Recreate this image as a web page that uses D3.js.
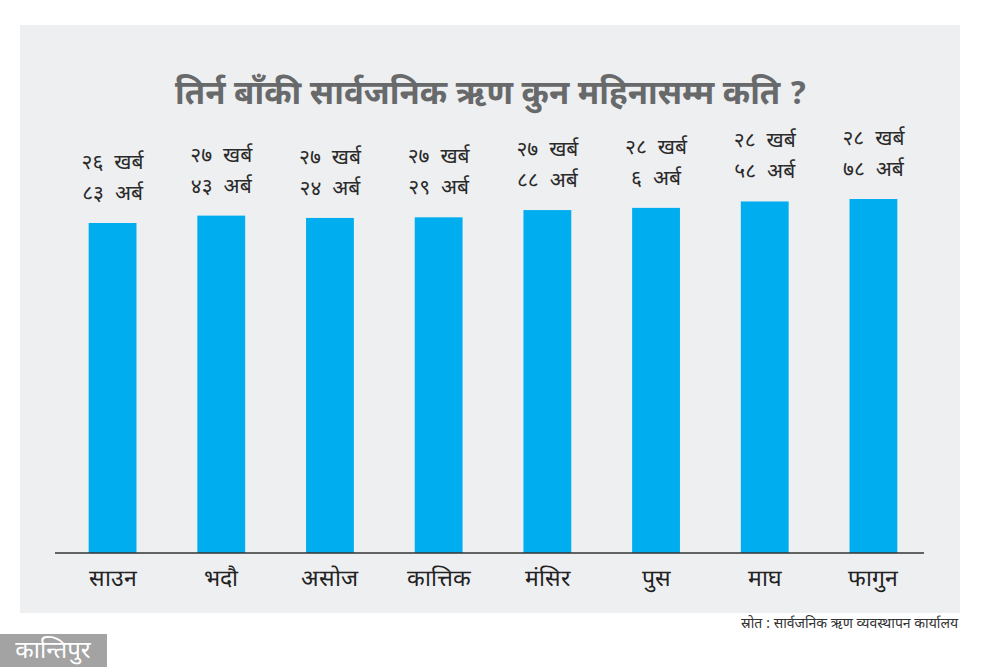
<!DOCTYPE html>
<html><head><meta charset="utf-8">
<script src="https://cdn.jsdelivr.net/npm/d3@7"></script>
<style>
body{margin:0;background:#fff;}
svg{display:block;font-family:"Noto Sans Devanagari","Noto Sans","DejaVu Sans",sans-serif;}
</style></head><body>
<svg id="c" width="1001" height="667"></svg>
<script>
const months = ["साउन","भदौ","असोज","कात्तिक","मंसिर","पुस","माघ","फागुन"];
// outstanding debt in अर्ब (1 खर्ब = 100 अर्ब)
const values = [2683, 2743, 2724, 2729, 2788, 2806, 2858, 2878];
const labelLine1 = ["२६  खर्ब","२७  खर्ब","२७  खर्ब","२७  खर्ब","२७  खर्ब","२८  खर्ब","२८  खर्ब","२८  खर्ब"];
const labelLine2 = ["८३  अर्ब","४३  अर्ब","२४  अर्ब","२९  अर्ब","८८  अर्ब","६  अर्ब","५८  अर्ब","७८  अर्ब"];
const title = "तिर्न बाँकी सार्वजनिक ऋण कुन महिनासम्म कति ?";
const source = "स्रोत : सार्वजनिक ऋण व्यवस्थापन कार्यालय";
const logo = "कान्तिपुर";

const svg = d3.select("#c");
svg.append("rect").attr("x",20).attr("y",25).attr("width",940).attr("height",588).attr("fill","#eeeff1");

const x = d3.scaleBand().domain(months).range([58,928]).paddingInner(0.56).paddingOuter(0.282);
const y = d3.scaleLinear().domain([0,3000]).range([553,184]);

svg.append("text").attr("x",491).attr("y",104).attr("text-anchor","middle")
  .attr("font-size",33).attr("font-weight","bold").attr("fill","#68696b").text(title);

svg.selectAll("rect.bar").data(values).join("rect").attr("class","bar")
  .attr("x",(d,i)=>x(months[i])).attr("width",x.bandwidth())
  .attr("y",d=>y(d)).attr("height",d=>y(0)-y(d)).attr("fill","#00aeef");

const lab = svg.selectAll("text.lab").data(values).join("text").attr("class","lab")
  .attr("text-anchor","middle").attr("font-size",21).attr("fill","#2a2a2a").style("white-space","pre");
lab.append("tspan").attr("x",(d,i)=>x(months[i])+x.bandwidth()/2).attr("y",d=>y(d)-54).text((d,i)=>labelLine1[i]);
lab.append("tspan").attr("x",(d,i)=>x(months[i])+x.bandwidth()/2).attr("y",d=>y(d)-23).text((d,i)=>labelLine2[i]);

const axis = d3.axisBottom(x).tickSize(0).tickPadding(12);
const ag = svg.append("g").attr("transform","translate(0,553)").call(axis);
ag.select(".domain").attr("d","M55,0H924").attr("stroke","#333").attr("stroke-width",1.5);
ag.selectAll(".tick text").attr("font-size",23).attr("fill","#222").attr("font-family",null).attr("dy","0.9em");

svg.append("text").attr("x",958).attr("y",628).attr("text-anchor","end").attr("font-size",14).attr("fill","#333").text(source);

svg.append("rect").attr("x",0).attr("y",634).attr("width",107).attr("height",33).attr("fill","#a3a3a3");
svg.append("text").attr("x",53).attr("y",658).attr("text-anchor","middle").attr("font-size",24).attr("fill","#fff").text(logo);
</script></body></html>
